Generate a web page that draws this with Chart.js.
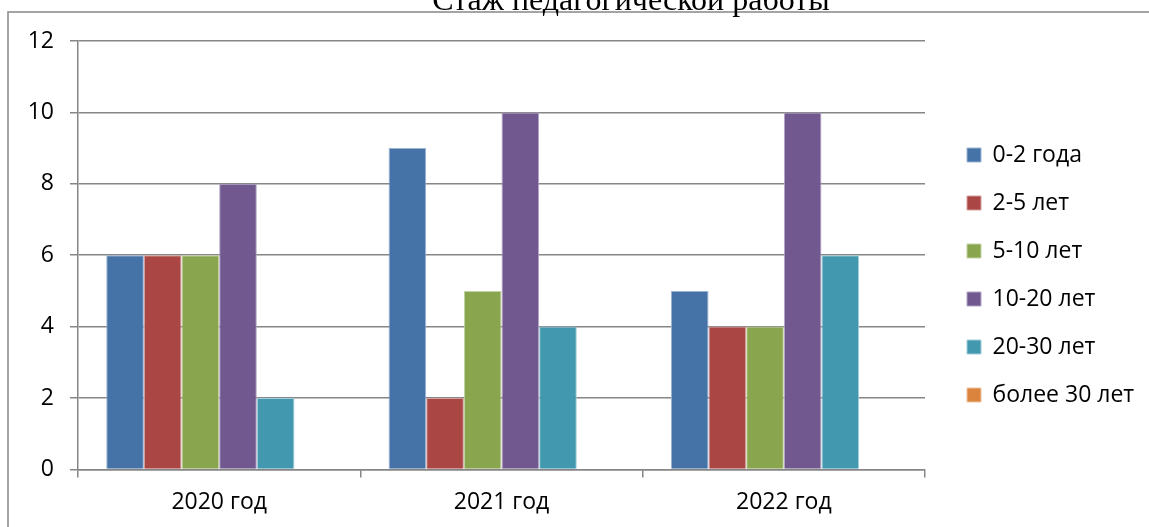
<!DOCTYPE html>
<html>
<head>
<meta charset="utf-8">
<script src="https://cdn.jsdelivr.net/npm/chart.js@4"></script>
<style>
  html, body { margin: 0; padding: 0; background: #fff; }
  #wrap { position: relative; width: 1149px; height: 527px; }
</style>
</head>
<body>
<div id="wrap"><canvas id="chart"></canvas></div>
<script>
const years = ["2020 год", "2021 год", "2022 год"];
const groups = ["0-2 года", "2-5 лет", "5-10 лет", "10-20 лет", "20-30 лет", "более 30 лет"];
const v0_2 = [6, 9, 5];
const v2_5 = [6, 2, 4];
const v5_10 = [6, 5, 4];
const v10_20 = [8, 10, 10];
const v20_30 = [2, 4, 6];
const v30plus = [0, 0, 0];
const yTicks = [0, 2, 4, 6, 8, 10, 12];

// excel 2007 palette
const fills = ["#4572A7", "#AA4643", "#89A54E", "#71588F", "#4198AF", "#DB843D"];
const edges = ["#9DB3D4", "#D49F9D", "#C2D3A3", "#B3A5C6", "#A2CEDA", "#EDC19E"];
const series = [v0_2, v2_5, v5_10, v10_20, v20_30, v30plus];

const gridColor = "#868686";
const labelFont = { family: "'Open Sans', 'Noto Sans', sans-serif", size: 23 };

// frame and cut-off title
const framePlugin = {
  id: "frame",
  beforeDraw(chart) {
    const c = chart.ctx;
    c.save();
    c.strokeStyle = gridColor;
    c.lineWidth = 1.5;
    c.beginPath();
    c.moveTo(8, chart.height);
    c.lineTo(8, 12);
    c.lineTo(chart.width, 12);
    c.stroke();
    c.fillStyle = "#000";
    c.font = "32px 'Liberation Serif', serif";
    c.textAlign = "center";
    c.textBaseline = "alphabetic";
    c.fillText("Стаж педагогической работы", 631, 10);
    c.restore();
  }
};

// legend sits a bit further from the plot than chart.js puts it
const legendGap = {
  id: "legendGap",
  afterInit(chart) {
    const lg = chart.legend;
    const fit = lg.fit.bind(lg);
    lg.fit = function () { fit(); this.width = 224; };
  },
  afterLayout(chart) {
    chart.legend.left += 17;
    chart.legend.top -= 12;
    chart.legend.bottom -= 6;
  }
};

new Chart(document.getElementById("chart"), {
  type: "bar",
  data: {
    labels: years,
    datasets: groups.map((g, i) => ({
      label: g,
      data: series[i],
      backgroundColor: fills[i],
      borderColor: edges[i],
      borderWidth: 1,
      categoryPercentage: 0.8,
      barPercentage: 1.0,
    })),
  },
  options: {
    responsive: true,
    maintainAspectRatio: false,
    animation: false,
    layout: { padding: { top: 41, right: 0, left: 0, bottom: 0 } },
    plugins: {
      tooltip: { enabled: false },
      legend: {
        position: "right",
        align: "center",
        labels: {
          boxWidth: 14,
          boxHeight: 14,
          padding: 25,
          color: "#000",
          font: labelFont,
        },
      },
    },
    scales: {
      x: {
        grid: { drawOnChartArea: false, drawTicks: true, tickLength: 8, color: gridColor, lineWidth: 1.5 },
        border: { color: gridColor, width: 1.5 },
        ticks: { color: "#000", font: labelFont, padding: 11 },
      },
      y: {
        min: 0,
        max: 12,
        afterFit(scale) { scale.width = 78; },
        afterBuildTicks(scale) { scale.ticks = yTicks.map(v => ({ value: v })); },
        grid: { color: gridColor, lineWidth: 1.5, tickLength: 8 },
        border: { color: gridColor, width: 1.5 },
        ticks: { color: "#000", font: labelFont, padding: 16 },
      },
    },
  },
  plugins: [framePlugin, legendGap],
});
</script>
</body>
</html>
